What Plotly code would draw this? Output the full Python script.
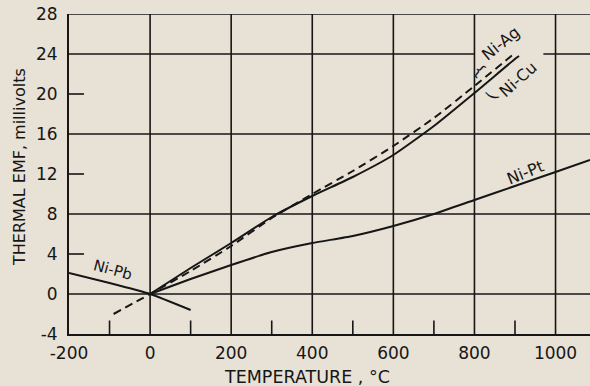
import plotly.graph_objects as go

# ---- data ----
temp_cu = [0, 100, 200, 300, 400, 500, 600, 700, 800, 900, 910]
emf_cu = [0, 2.6, 5.1, 7.7, 9.8, 11.7, 13.9, 16.8, 20.1, 23.5, 23.8]

temp_ag = [-90, 0, 100, 200, 300, 400, 500, 600, 700, 800, 900]
emf_ag = [-2.0, 0, 2.3, 4.8, 7.6, 10.0, 12.3, 14.8, 17.6, 20.8, 24.1]

temp_pt = [0, 100, 200, 300, 400, 500, 600, 700, 800, 900, 1000, 1085]
emf_pt = [0, 1.5, 2.9, 4.2, 5.1, 5.8, 6.8, 8.0, 9.4, 10.8, 12.2, 13.4]

temp_pb = [-200, -100, 0, 100]
emf_pb = [2.1, 1.1, 0, -1.6]

x_ticks = [-200, 0, 200, 400, 600, 800, 1000]
y_ticks = [-4, 0, 4, 8, 12, 16, 20, 24, 28]
grid_x = [0, 200, 400, 600, 800, 1000]
grid_y = [0, 8, 16, 28]
minor_x = [-100, 100, 300, 500, 700, 900]
minor_y = [4, 12, 20]
# the 24 mV grid line is interrupted behind the Ni-Ag / Ni-Cu labels
grid24 = 24
grid24_gap = (800, 970)

labels = [
    ("Ni-Ag", 864, 25.1, -39, 16),
    ("Ni-Cu", 907, 21.5, -42, 16),
    ("Ni-Pt", 925, 12.2, -22, 16),
    ("Ni-Pb", -92, 2.4, 15, 15),
]
brackets = [
    ("{", 814, 22.4, 40),
    ("(", 840, 19.8, -70),
]

BG = "#e8e1d5"
INK = "#161616"
FONT = "DejaVu Sans"
XMIN, XMAX = -200, 1085
YMIN, YMAX = -4, 28

fig = go.Figure()
fig.add_trace(go.Scatter(x=temp_cu, y=emf_cu, mode="lines",
                         line=dict(color=INK, width=2, shape="spline", smoothing=0.5)))
fig.add_trace(go.Scatter(x=temp_ag, y=emf_ag, mode="lines",
                         line=dict(color=INK, width=2, dash="8px,5px", shape="spline", smoothing=0.5)))
fig.add_trace(go.Scatter(x=temp_pt, y=emf_pt, mode="lines",
                         line=dict(color=INK, width=2, shape="spline", smoothing=0.5)))
fig.add_trace(go.Scatter(x=temp_pb, y=emf_pb, mode="lines",
                         line=dict(color=INK, width=2, shape="spline", smoothing=0.5)))

gl = dict(color=INK, width=1.6)
shapes = []
for gx in grid_x:
    shapes.append(dict(type="line", xref="x", yref="paper", x0=gx, x1=gx, y0=0, y1=1,
                       line=gl, layer="below"))
for gy in grid_y:
    shapes.append(dict(type="line", xref="paper", yref="y", x0=0, x1=1, y0=gy, y1=gy,
                       line=gl, layer="below"))
shapes.append(dict(type="line", xref="x", yref="y", x0=XMIN, x1=grid24_gap[0], y0=grid24, y1=grid24,
                   line=gl, layer="below"))
shapes.append(dict(type="line", xref="x", yref="y", x0=grid24_gap[1], x1=XMAX, y0=grid24, y1=grid24,
                   line=gl, layer="below"))
for mx in minor_x:
    shapes.append(dict(type="line", xref="x", yref="y", x0=mx, x1=mx, y0=YMIN, y1=YMIN + 1.35,
                       line=gl, layer="below"))
for my in minor_y:
    shapes.append(dict(type="line", xref="x", yref="y", x0=XMIN, x1=XMIN + 37, y0=my, y1=my,
                       line=gl, layer="below"))

annotations = []
for txt, lx, ly, ang, sz in labels:
    annotations.append(dict(x=lx, y=ly, xref="x", yref="y", text=txt, showarrow=False,
                            textangle=ang, font=dict(family=FONT, size=sz, color=INK)))
for txt, lx, ly, ang in brackets:
    annotations.append(dict(x=lx, y=ly, xref="x", yref="y", text=txt, showarrow=False,
                            textangle=ang, font=dict(family=FONT, size=16, color=INK)))
annotations.append(dict(x=0.457, y=-0.134, xref="paper", yref="paper", yanchor="middle",
                        text="TEMPERATURE , °C", showarrow=False,
                        font=dict(family=FONT, size=17.5, color=INK)))
annotations.append(dict(x=-0.094, y=0.522, xref="paper", yref="paper", xanchor="center",
                        text="THERMAL EMF, millivolts", showarrow=False, textangle=-90,
                        font=dict(family=FONT, size=16, color=INK)))

fig.update_layout(
    width=590, height=386,
    margin=dict(l=69, r=0, t=14, b=52),
    paper_bgcolor=BG, plot_bgcolor=BG,
    showlegend=False,
    shapes=shapes, annotations=annotations,
    xaxis=dict(range=[XMIN, XMAX], tickvals=x_ticks, ticktext=[str(v) for v in x_ticks],
               showgrid=False, zeroline=False, showline=True, linecolor=INK, linewidth=2,
               ticks="", ticklabelstandoff=3,
               tickfont=dict(family=FONT, size=17, color=INK)),
    yaxis=dict(range=[YMIN, YMAX], tickvals=y_ticks, ticktext=[str(v) for v in y_ticks],
               showgrid=False, zeroline=False, showline=True, linecolor=INK, linewidth=2,
               ticks="", ticklabelstandoff=6,
               tickfont=dict(family=FONT, size=17, color=INK)),
)

fig.write_html("out.html")
